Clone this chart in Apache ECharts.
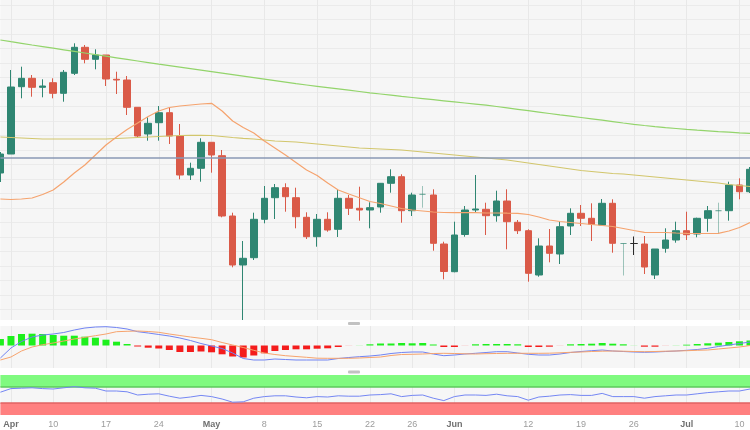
<!DOCTYPE html>
<html><head><meta charset="utf-8">
<script src="https://cdn.jsdelivr.net/npm/echarts@6/dist/echarts.min.js"></script>
<style>html,body{margin:0;padding:0;background:#fff}#c{width:750px;height:430px}</style>
</head><body><div id="c"></div>
<script>
// ---- categories (trading days, MM-DD) ----
const dates = ['03-31','04-03','04-04','04-05','04-06','04-10','04-11','04-12','04-13','04-14',
 '04-17','04-18','04-19','04-20','04-21','04-24','04-25','04-26','04-27','04-28',
 '05-01','05-02','05-03','05-04','05-05','05-08','05-09','05-10','05-11','05-12',
 '05-15','05-16','05-17','05-18','05-19','05-22','05-23','05-24','05-25','05-26',
 '05-29','05-30','05-31','06-01','06-02','06-05','06-06','06-07','06-08','06-09',
 '06-12','06-13','06-14','06-15','06-16','06-19','06-20','06-21','06-22','06-23',
 '06-26','06-27','06-28','06-29','06-30','07-03','07-04','07-05','07-06','07-07',
 '07-10','07-11'];
// ---- tick labels ----
const tickLabels = {'04-03':'Apr','04-10':'10','04-17':'17','04-24':'24','05-01':'May','05-08':'8',
 '05-15':'15','05-22':'22','05-26':'26','06-01':'Jun','06-12':'12','06-19':'19','06-26':'26',
 '07-03':'Jul','07-10':'10'};
const monthTicks = ['04-03','05-01','06-01','07-03'];
// ---- candles: [open, close, low, high] ----
const ohlc = [
 [122.70,124.60,121.80,124.80],[124.60,131.30,124.60,133.00],[131.33,132.17,130.17,133.33],
 [132.17,131.27,130.33,132.50],[131.27,131.40,130.27,132.07],[131.73,130.67,130.17,132.17],
 [130.67,132.77,129.83,133.00],[132.67,135.27,132.50,135.67],[135.27,134.07,133.67,135.50],
 [134.07,134.50,133.07,135.07],[134.50,132.10,131.40,134.50],[132.07,132.00,130.60,132.83],
 [132.00,129.27,128.50,132.40],[129.27,126.40,126.27,129.27],[126.60,127.67,125.93,128.27],
 [127.73,128.73,125.93,129.40],[128.73,126.40,125.60,129.23],[126.40,122.50,122.07,127.60],
 [122.50,123.17,122.00,123.73],[123.17,125.77,121.83,126.17],[125.77,124.50,122.73,125.77],
 [124.43,118.40,118.27,125.00],[118.40,113.50,113.27,118.73],[113.50,114.17,108.00,115.90],
 [114.23,118.07,114.00,118.73],[118.07,120.17,117.67,121.40],[120.23,121.23,118.10,121.60],
 [121.23,120.33,118.83,121.67],[120.23,118.33,117.17,121.23],[118.27,116.33,116.10,118.77],
 [116.33,118.07,115.33,118.60],[118.07,117.00,116.83,118.77],[117.07,120.17,116.30,121.00],
 [120.17,119.17,118.50,120.50],[119.17,119.00,117.93,121.33],[119.00,119.23,117.17,119.77],
 [119.30,121.67,118.73,121.70],[121.67,122.33,120.73,123.07],[122.33,118.93,117.73,122.57],
 [118.93,120.50,118.40,120.73],[120.57,120.57,119.23,121.40],[120.50,115.67,114.93,121.07],
 [115.60,112.85,112.07,115.83],[112.83,116.50,112.77,117.83],[116.55,119.00,116.33,119.40],
 [119.00,119.10,118.73,122.50],[119.07,118.43,116.50,119.73],[118.43,119.90,117.83,120.93],
 [119.90,117.83,115.07,121.07],[117.77,116.93,116.60,118.00],[116.93,112.67,111.83,117.07],
 [112.50,115.40,112.33,116.17],[115.40,114.67,113.77,117.10],[114.60,117.33,113.60,117.83],
 [117.40,118.67,116.50,119.17],[118.67,118.17,117.40,119.50],[118.17,117.57,115.90,119.67],
 [117.50,119.67,117.50,120.10],[119.67,115.67,114.73,120.07],[115.65,115.65,112.45,115.65],
 [115.65,115.65,114.50,116.35],[115.60,113.30,112.60,116.40],[112.50,115.10,112.10,115.10],
 [115.17,116.00,114.73,117.17],[116.00,116.93,115.73,117.83],[116.93,116.53,116.00,118.83],
 [116.60,118.17,116.27,118.23],[118.17,118.93,116.83,119.40],[118.93,118.93,116.60,119.73],
 [118.93,121.50,117.93,121.83],[121.50,120.83,120.07,122.17],[120.83,123.07,120.70,123.30]];
const fadedDoji = ['05-29','06-23','07-06'];
const neutralDoji = ['06-26'];
// ---- moving averages ----
const ma20 = [120.10,120.05,120.10,120.20,120.55,121.00,121.80,122.70,123.50,124.50,125.50,126.30,127.05,127.70,
 128.35,128.90,129.25,129.40,129.50,129.60,129.67,128.90,127.90,127.25,126.70,125.90,125.20,124.50,123.75,123.00,
 122.45,121.70,121.00,120.60,120.23,119.85,119.65,119.40,119.15,119.00,118.90,118.80,118.75,118.73,118.73,118.73,
 118.70,118.70,118.68,118.67,118.55,118.30,118.00,117.85,117.75,117.65,117.55,117.45,117.35,117.15,116.95,116.77,
 116.75,116.75,116.70,116.67,116.65,116.65,116.67,116.90,117.25,117.75];
const ma100 = [126.30,126.25,126.20,126.15,126.10,126.10,126.10,126.10,126.10,126.10,126.10,126.15,126.20,126.25,
 126.30,126.35,126.40,126.45,126.47,126.47,126.45,126.35,126.25,126.17,126.10,126.00,125.90,125.85,125.80,125.70,
 125.60,125.50,125.40,125.30,125.20,125.15,125.10,125.05,125.00,124.90,124.80,124.70,124.60,124.50,124.40,124.30,
 124.20,124.10,124.00,123.85,123.70,123.55,123.40,123.25,123.10,122.95,122.85,122.75,122.65,122.60,122.50,122.40,
 122.30,122.20,122.10,122.00,121.90,121.80,121.70,121.55,121.45,121.35];
const ma200 = [136.00,135.83,135.67,135.50,135.34,135.18,135.02,134.86,134.70,134.54,134.38,134.22,134.06,133.90,
 133.74,133.58,133.43,133.28,133.13,132.98,132.83,132.68,132.53,132.38,132.23,132.08,131.93,131.78,131.63,131.50,
 131.37,131.24,131.11,130.98,130.85,130.72,130.60,130.48,130.36,130.25,130.14,130.03,129.92,129.81,129.70,129.59,
 129.48,129.35,129.21,129.07,128.93,128.79,128.65,128.51,128.38,128.25,128.12,127.98,127.84,127.70,127.57,127.45,
 127.34,127.24,127.15,127.06,126.98,126.91,126.84,126.78,126.72,126.67];
const refLevel = 124.25;
// ---- MACD ----
const macdHist = [0.65,0.95,1.15,1.18,1.15,1.05,0.98,0.98,0.88,0.78,0.58,0.38,0.15,-0.1,-0.22,-0.3,-0.45,-0.65,
 -0.65,-0.6,-0.68,-0.88,-1.1,-1.2,-1.0,-0.78,-0.55,-0.45,-0.38,-0.38,-0.32,-0.28,-0.15,-0.04,0.04,0.12,0.2,0.2,
 0.25,0.22,0.25,0.1,-0.15,-0.15,-0.04,0.12,0.15,0.15,0.15,0.12,-0.15,-0.15,-0.12,-0.04,0.12,0.15,0.18,0.25,0.18,
 0.12,0.04,-0.12,-0.12,-0.04,0.05,0.08,0.15,0.22,0.28,0.35,0.42,0.5];
const macdLine = [-1.25,-0.25,0.4,0.85,1.05,1.15,1.3,1.55,1.75,1.85,1.88,1.8,1.65,1.38,1.25,1.1,0.95,0.75,0.5,0.2,
 -0.05,-0.3,-0.75,-1.3,-1.45,-1.45,-1.35,-1.4,-1.45,-1.45,-1.45,-1.45,-1.3,-1.2,-1.12,-1.05,-0.95,-0.8,-0.7,-0.65,
 -0.65,-0.85,-1.02,-0.95,-0.85,-0.78,-0.7,-0.62,-0.62,-0.75,-0.88,-0.95,-0.95,-0.85,-0.7,-0.6,-0.52,-0.45,-0.55,
 -0.6,-0.65,-0.68,-0.65,-0.6,-0.55,-0.48,-0.4,-0.28,-0.1,0.05,0.2,0.35];
const macdSignal = [-1.45,-1.15,-0.55,-0.15,0.08,0.25,0.45,0.65,0.82,0.98,1.15,1.38,1.42,1.45,1.4,1.32,1.15,1.0,
 0.85,0.72,0.58,0.3,0.05,-0.2,-0.48,-0.75,-0.9,-1.02,-1.1,-1.18,-1.27,-1.28,-1.28,-1.28,-1.25,-1.2,-1.15,-1.0,
 -0.9,-0.88,-0.85,-0.8,-0.78,-0.8,-0.83,-0.85,-0.82,-0.8,-0.78,-0.78,-0.78,-0.78,-0.77,-0.73,-0.68,-0.65,-0.6,
 -0.57,-0.55,-0.57,-0.6,-0.62,-0.6,-0.57,-0.55,-0.52,-0.48,-0.45,-0.35,-0.25,-0.15,0];
// ---- RSI ----
const rsi = [57,66,67,68,66,65,68,71,68,67,60,60,58,50,52,53,47,42,45,49,46,40,32,33,42,46,48,48,45,43,46,45,
 48,47,47,50,51,53,46,49,50,42,36,46,50,50,49,52,48,46,37,45,47,50,51,49,49,54,46,46,46,42,46,48,50,50,53,56,
 58,60,60,65];
const rsiBands = [30, 70];

// ---- styles ----
const UP = '#2f8672', DOWN = '#da5a48';
const BG = '#f6f6f6', GRIDC = '#e8e8e8';
const FONT = 'Liberation Sans';

const candleData = dates.map((d, i) => {
  const v = ohlc[i];
  let c = null;
  if (fadedDoji.includes(d)) c = 'rgba(47,134,114,0.45)';
  if (neutralDoji.includes(d)) c = '#2a2a2a';
  if (!c) return v;
  return {value: v, itemStyle: {color: c, color0: c, borderColor: c, borderColor0: c, borderColorDoji: c}};
});

const isTick = (idx, val) => tickLabels[val] !== undefined;
const L = 0.4, W = 751.2;
const catX = (gi, labels) => ({
  type: 'category', gridIndex: gi, data: dates, boundaryGap: false,
  axisLine: {show: false}, axisTick: {show: false},
  axisLabel: labels ? {
    show: true, interval: isTick, margin: 5, fontSize: 9, fontFamily: FONT,
    formatter: v => tickLabels[v] === undefined ? '' :
      (monthTicks.includes(v) ? '{m|' + tickLabels[v] + '}' : '{d|' + tickLabels[v] + '}'),
    rich: {m: {fontWeight: 'bold', color: '#707070', fontSize: 9, fontFamily: FONT},
           d: {color: '#9c9c9c', fontSize: 9, fontFamily: FONT}}
  } : {show: false},
  splitLine: {show: true, interval: isTick, lineStyle: {color: GRIDC, width: 1}}
});

const option = {
  animation: false,
  backgroundColor: '#ffffff',
  grid: [
    {left: L, width: W, top: 0, height: 320, show: true, backgroundColor: BG, borderWidth: 0},
    {left: L, width: W, top: 326, height: 42, show: true, backgroundColor: BG, borderWidth: 0},
    {left: L, width: W, top: 375, height: 40, show: true, backgroundColor: BG, borderWidth: 0},
    {left: 0, width: 750, top: 5, height: 304.5, show: false}
  ],
  xAxis: [catX(0, false), catX(1, false), catX(2, true),
    {type: 'value', gridIndex: 3, show: false, min: 0, max: 1}],
  yAxis: [
    {type: 'value', gridIndex: 0, min: 108, max: 140, show: false},
    {type: 'value', gridIndex: 1, min: -2.25, max: 1.95, show: false},
    {type: 'value', gridIndex: 2, min: 0, max: 100, show: false},
    {type: 'value', gridIndex: 3, min: 0, max: 21, interval: 1,
     axisLine: {show: false}, axisTick: {show: false}, axisLabel: {show: false},
     splitLine: {show: true, lineStyle: {color: '#ebebeb', width: 1}}}
  ],
  series: [
    {type: 'candlestick', xAxisIndex: 0, yAxisIndex: 0, data: candleData, barWidth: 7,
     itemStyle: {color: UP, color0: DOWN, borderColor: UP, borderColor0: DOWN, borderWidth: 1},
     markLine: {silent: true, symbol: ['none', 'none'], label: {show: false},
       lineStyle: {color: '#8a99b5', width: 1.5, type: 'solid'}, data: [{yAxis: refLevel}]}},
    {type: 'line', xAxisIndex: 0, yAxisIndex: 0, data: ma200, symbol: 'none',
     lineStyle: {color: '#93d46b', width: 1.2}},
    {type: 'line', xAxisIndex: 0, yAxisIndex: 0, data: ma100, symbol: 'none',
     lineStyle: {color: '#d2c66c', width: 1.2}},
    {type: 'line', xAxisIndex: 0, yAxisIndex: 0, data: ma20, symbol: 'none',
     lineStyle: {color: '#f5a36e', width: 1.2}},
    {type: 'bar', xAxisIndex: 1, yAxisIndex: 1, data: macdHist, barWidth: 7,
     itemStyle: {color: p => {
       const v = p.value;
       if (Math.abs(v) < 0.06) return v >= 0 ? '#b8f7b8' : '#f7c4c4';
       return v >= 0 ? '#1df01d' : '#f41c1c';
     }}},
    {type: 'line', xAxisIndex: 1, yAxisIndex: 1, data: macdLine, symbol: 'none',
     lineStyle: {color: '#7083f2', width: 1}},
    {type: 'line', xAxisIndex: 1, yAxisIndex: 1, data: macdSignal, symbol: 'none',
     lineStyle: {color: '#f6a36d', width: 1}},
    {type: 'line', xAxisIndex: 2, yAxisIndex: 2, data: rsi, symbol: 'none',
     lineStyle: {color: '#7486f3', width: 1}, z: 5,
     markArea: {silent: true, data: [
       [{yAxis: rsiBands[1], itemStyle: {color: '#80fa80'}}, {yAxis: 100}],
       [{yAxis: 0, itemStyle: {color: '#ff8080'}}, {yAxis: rsiBands[0]}]
     ]},
     markLine: {silent: true, symbol: ['none', 'none'], label: {show: false}, data: [
       {yAxis: rsiBands[1], lineStyle: {color: '#5cc95c', width: 1.5, type: 'solid'}},
       {yAxis: rsiBands[0], lineStyle: {color: '#e06262', width: 1.5, type: 'solid'}}
     ]}}
  ],
  graphic: [
    {type: 'rect', shape: {x: 348, y: 322, width: 12, height: 3, r: 1}, style: {fill: '#c2c2c2'}},
    {type: 'rect', shape: {x: 348, y: 370.5, width: 12, height: 3, r: 1}, style: {fill: '#c2c2c2'}}
  ]
};
const chart = echarts.init(document.getElementById('c'));
chart.setOption(option);
</script>
</body></html>
